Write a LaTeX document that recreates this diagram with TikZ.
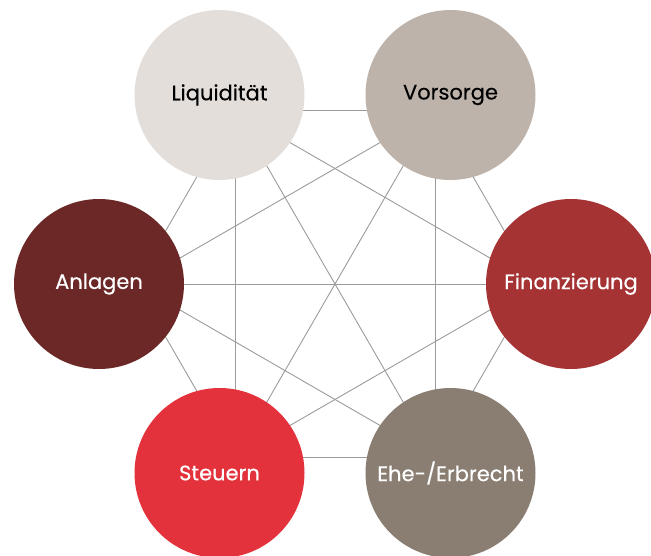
\documentclass[tikz,border=0pt]{standalone}
\usepackage{fontspec}
\setmainfont{Poppins}
\newfontfamily\labelfont{Poppins}[FakeBold=0.35]
\definecolor{linegray}{HTML}{9B9B9B}
\definecolor{cLiq}{HTML}{E3DEDA}
\definecolor{cVor}{HTML}{BDB3AB}
\definecolor{cFin}{HTML}{A63334}
\definecolor{cEhe}{HTML}{8A7E72}
\definecolor{cSte}{HTML}{E4323C}
\definecolor{cAnl}{HTML}{6C2826}
\begin{document}
\begin{tikzpicture}[x=1pt,y=-1pt,
  link/.style={draw=linegray, line width=0.9pt},
  bubble/.style={circle, minimum size=170pt, inner sep=0pt,
    font=\labelfont\fontsize{21}{25}\selectfont},
]
\useasboundingbox (0,0) rectangle (651,556);
\clip (0,0) rectangle (651,556);
% hexagon anchor points of the connectors
\coordinate (pL) at (235,110.8);
\coordinate (pV) at (435,110.8);
\coordinate (pF) at (535,284);
\coordinate (pE) at (435,457.2);
\coordinate (pS) at (235,457.2);
\coordinate (pA) at (135,284);
\foreach \a/\b in {pL/pV,pV/pF,pF/pE,pE/pS,pS/pA,pA/pL,
                   pL/pE,pV/pS,pA/pF,
                   pL/pS,pV/pE,pL/pF,pV/pA,pA/pE,pF/pS}
  \draw[link] (\a) -- (\b);
% circles
\node[bubble, fill=cLiq, text=black] (liq) at (219.5,95) {Liquidität};
\node[bubble, fill=cVor, text=black] (vor) at (450.5,95) {Vorsorge};
\node[bubble, fill=cFin, text=white] (fin) at (571,284) {Finanzierung};
\node[bubble, fill=cEhe, text=white] (ehe) at (450.5,473) {Ehe-/Erbrecht};
\node[bubble, fill=cSte, text=white] (ste) at (219.5,473) {Steuern};
\node[bubble, fill=cAnl, text=white] (anl) at (99,284) {Anlagen};
\end{tikzpicture}
\end{document}
